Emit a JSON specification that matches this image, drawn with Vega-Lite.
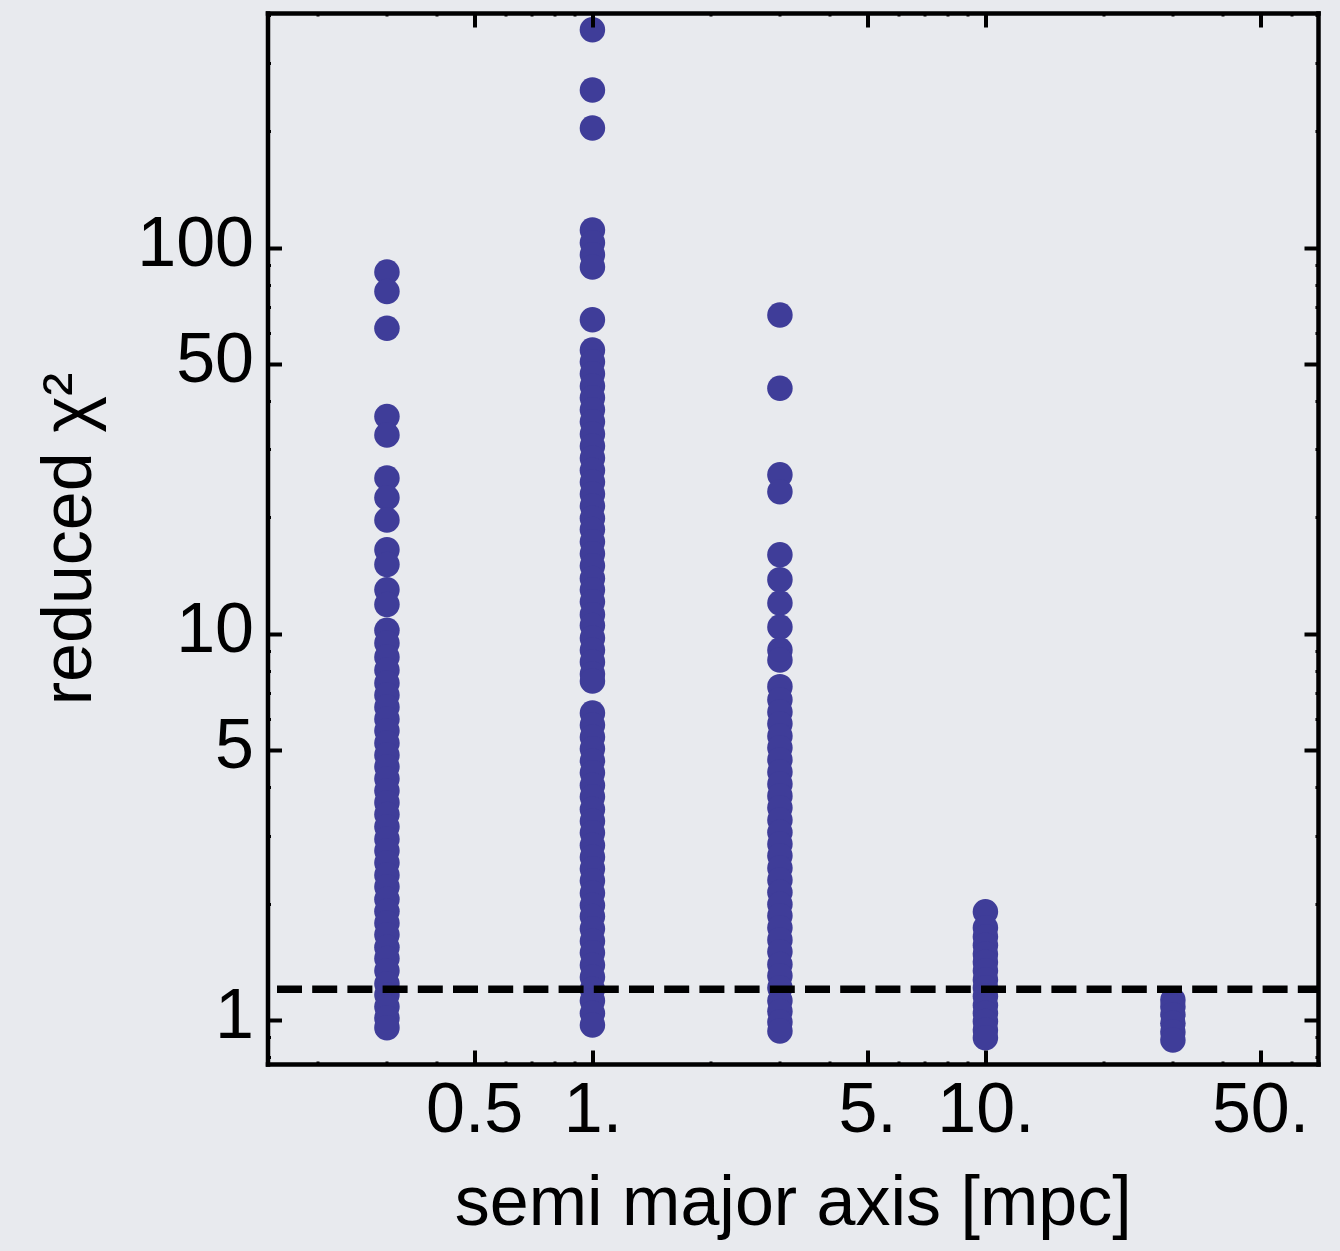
{
  "$schema": "https://vega.github.io/schema/vega-lite/v6.json",
  "width": 1050.5,
  "height": 1051,
  "autosize": "none",
  "padding": {"left": 267.5, "top": 13, "right": 22, "bottom": 187},
  "background": "#e8eaee",
  "config": {
    "view": {"stroke": null},
    "font": "Liberation Sans",
    "axis": {
      "grid": false,
      "domainColor": "#000000",
      "domainWidth": 4.5,
      "domainCap": "square",
      "tickColor": "#000000",
      "tickCap": "butt",
      "labelColor": "#000000",
      "labelFont": "Liberation Sans",
      "labelFontSize": 70,
      "labelFlush": false,
      "labelOverlap": false,
      "labelBound": false,
      "titleColor": "#000000",
      "titleFont": "Liberation Sans",
      "titleFontSize": 70,
      "titleFontWeight": "normal"
    }
  },
  "resolve": {"axis": {"x": "independent", "y": "independent"}},
  "layer": [
    {
      "data": {
        "values": [
          {"a": 0.3, "chi2": 86.4}, {"a": 0.3, "chi2": 76.9}, {"a": 0.3, "chi2": 61.8}, {"a": 0.3, "chi2": 36.5},
          {"a": 0.3, "chi2": 32.7}, {"a": 0.3, "chi2": 25.3}, {"a": 0.3, "chi2": 22.5}, {"a": 0.3, "chi2": 19.7},
          {"a": 0.3, "chi2": 16.5}, {"a": 0.3, "chi2": 15.1}, {"a": 0.3, "chi2": 13.0}, {"a": 0.3, "chi2": 11.9},
          {"a": 0.3, "chi2": 10.2}, {"a": 0.3, "chi2": 9.46}, {"a": 0.3, "chi2": 8.7}, {"a": 0.3, "chi2": 8.05},
          {"a": 0.3, "chi2": 7.45}, {"a": 0.3, "chi2": 6.94}, {"a": 0.3, "chi2": 6.46}, {"a": 0.3, "chi2": 6.01},
          {"a": 0.3, "chi2": 5.6}, {"a": 0.3, "chi2": 5.21}, {"a": 0.3, "chi2": 4.85}, {"a": 0.3, "chi2": 4.52},
          {"a": 0.3, "chi2": 4.21}, {"a": 0.3, "chi2": 3.92}, {"a": 0.3, "chi2": 3.65}, {"a": 0.3, "chi2": 3.4},
          {"a": 0.3, "chi2": 3.16}, {"a": 0.3, "chi2": 2.94}, {"a": 0.3, "chi2": 2.74}, {"a": 0.3, "chi2": 2.55},
          {"a": 0.3, "chi2": 2.37}, {"a": 0.3, "chi2": 2.21}, {"a": 0.3, "chi2": 2.05}, {"a": 0.3, "chi2": 1.91},
          {"a": 0.3, "chi2": 1.78}, {"a": 0.3, "chi2": 1.66}, {"a": 0.3, "chi2": 1.54}, {"a": 0.3, "chi2": 1.44},
          {"a": 0.3, "chi2": 1.34}, {"a": 0.3, "chi2": 1.24}, {"a": 0.3, "chi2": 1.16}, {"a": 0.3, "chi2": 1.08},
          {"a": 0.3, "chi2": 1.01}, {"a": 0.3, "chi2": 0.954},

          {"a": 1, "chi2": 366.5}, {"a": 1, "chi2": 256}, {"a": 1, "chi2": 203.9}, {"a": 1, "chi2": 111},
          {"a": 1, "chi2": 102.9}, {"a": 1, "chi2": 95.8}, {"a": 1, "chi2": 89.1}, {"a": 1, "chi2": 65.0},
          {"a": 1, "chi2": 54.3}, {"a": 1, "chi2": 50.6}, {"a": 1, "chi2": 47.1}, {"a": 1, "chi2": 43.8},
          {"a": 1, "chi2": 40.8}, {"a": 1, "chi2": 38.0}, {"a": 1, "chi2": 35.4}, {"a": 1, "chi2": 32.9},
          {"a": 1, "chi2": 30.6}, {"a": 1, "chi2": 28.5}, {"a": 1, "chi2": 26.5}, {"a": 1, "chi2": 24.7},
          {"a": 1, "chi2": 23.0}, {"a": 1, "chi2": 21.4}, {"a": 1, "chi2": 19.9}, {"a": 1, "chi2": 18.6},
          {"a": 1, "chi2": 17.3}, {"a": 1, "chi2": 16.1}, {"a": 1, "chi2": 15.0}, {"a": 1, "chi2": 13.9},
          {"a": 1, "chi2": 13.0}, {"a": 1, "chi2": 12.1}, {"a": 1, "chi2": 11.2}, {"a": 1, "chi2": 10.5},
          {"a": 1, "chi2": 9.74}, {"a": 1, "chi2": 9.07}, {"a": 1, "chi2": 8.45}, {"a": 1, "chi2": 7.86},
          {"a": 1, "chi2": 7.54}, {"a": 1, "chi2": 6.23}, {"a": 1, "chi2": 5.8}, {"a": 1, "chi2": 5.4},
          {"a": 1, "chi2": 5.03}, {"a": 1, "chi2": 4.68}, {"a": 1, "chi2": 4.36}, {"a": 1, "chi2": 4.05},
          {"a": 1, "chi2": 3.78}, {"a": 1, "chi2": 3.51}, {"a": 1, "chi2": 3.27}, {"a": 1, "chi2": 3.05},
          {"a": 1, "chi2": 2.83}, {"a": 1, "chi2": 2.64}, {"a": 1, "chi2": 2.46}, {"a": 1, "chi2": 2.29},
          {"a": 1, "chi2": 2.13}, {"a": 1, "chi2": 1.98}, {"a": 1, "chi2": 1.85}, {"a": 1, "chi2": 1.72},
          {"a": 1, "chi2": 1.6}, {"a": 1, "chi2": 1.49}, {"a": 1, "chi2": 1.385}, {"a": 1, "chi2": 1.29},
          {"a": 1, "chi2": 1.2}, {"a": 1, "chi2": 1.12}, {"a": 1, "chi2": 1.04}, {"a": 1, "chi2": 0.969},

          {"a": 3, "chi2": 66.9}, {"a": 3, "chi2": 43.2}, {"a": 3, "chi2": 25.8}, {"a": 3, "chi2": 23.3},
          {"a": 3, "chi2": 16.0}, {"a": 3, "chi2": 13.8}, {"a": 3, "chi2": 12.0}, {"a": 3, "chi2": 10.4},
          {"a": 3, "chi2": 9.07}, {"a": 3, "chi2": 8.55}, {"a": 3, "chi2": 7.29}, {"a": 3, "chi2": 6.74},
          {"a": 3, "chi2": 6.27}, {"a": 3, "chi2": 5.84}, {"a": 3, "chi2": 5.43}, {"a": 3, "chi2": 5.06},
          {"a": 3, "chi2": 4.71}, {"a": 3, "chi2": 4.38}, {"a": 3, "chi2": 4.08}, {"a": 3, "chi2": 3.8},
          {"a": 3, "chi2": 3.54}, {"a": 3, "chi2": 3.29}, {"a": 3, "chi2": 3.06}, {"a": 3, "chi2": 2.85},
          {"a": 3, "chi2": 2.66}, {"a": 3, "chi2": 2.47}, {"a": 3, "chi2": 2.3}, {"a": 3, "chi2": 2.14},
          {"a": 3, "chi2": 1.99}, {"a": 3, "chi2": 1.86}, {"a": 3, "chi2": 1.73}, {"a": 3, "chi2": 1.61},
          {"a": 3, "chi2": 1.5}, {"a": 3, "chi2": 1.39}, {"a": 3, "chi2": 1.3}, {"a": 3, "chi2": 1.21},
          {"a": 3, "chi2": 1.12}, {"a": 3, "chi2": 1.05}, {"a": 3, "chi2": 0.986}, {"a": 3, "chi2": 0.935},

          {"a": 10, "chi2": 1.905}, {"a": 10, "chi2": 1.73}, {"a": 10, "chi2": 1.64}, {"a": 10, "chi2": 1.56},
          {"a": 10, "chi2": 1.48}, {"a": 10, "chi2": 1.41}, {"a": 10, "chi2": 1.34}, {"a": 10, "chi2": 1.27},
          {"a": 10, "chi2": 1.21}, {"a": 10, "chi2": 1.15}, {"a": 10, "chi2": 1.09}, {"a": 10, "chi2": 1.04},
          {"a": 10, "chi2": 0.99}, {"a": 10, "chi2": 0.94}, {"a": 10, "chi2": 0.898},

          {"a": 30, "chi2": 1.125}, {"a": 30, "chi2": 1.08}, {"a": 30, "chi2": 1.03}, {"a": 30, "chi2": 0.98},
          {"a": 30, "chi2": 0.93}, {"a": 30, "chi2": 0.886}
        ]
      },
      "mark": {"type": "point", "filled": true, "size": 650, "color": "#3f3d99", "opacity": 1, "strokeWidth": 0},
      "encoding": {
        "x": {
          "field": "a", "type": "quantitative",
          "scale": {"type": "log", "domain": [0.149, 70.2], "nice": false},
          "axis": {
            "orient": "bottom", "values": [0.5, 1, 5, 10, 50],
            "labelExpr": "datum.value < 1 ? '0.5' : datum.value + '.'",
            "tickSize": -14, "tickWidth": 4, "labelPadding": 26,
            "title": "semi major axis [mpc]", "titlePadding": 24, "zindex": 1
          }
        },
        "y": {
          "field": "chi2", "type": "quantitative",
          "scale": {"type": "log", "domain": [0.768, 405], "nice": false},
          "axis": {
            "orient": "left", "values": [1, 5, 10, 50, 100], "format": "d",
            "tickSize": -14, "tickWidth": 4, "labelPadding": 28, "labelOffset": -3,
            "title": "reduced χ²", "titlePadding": 31, "zindex": 1
          }
        }
      }
    },
    {
      "data": {"values": [{"a": 1, "chi2": 1}]},
      "mark": {"type": "point", "opacity": 0},
      "encoding": {
        "x": {
          "field": "a", "type": "quantitative",
          "axis": {
            "orient": "bottom", "values": [0.2, 0.3, 0.4, 0.6, 0.7, 0.8, 0.9, 2, 3, 4, 6, 7, 8, 9, 20, 30, 40, 60],
            "labels": false, "domain": false, "tickSize": -3, "tickWidth": 3, "title": null, "zindex": 1
          }
        },
        "y": {
          "field": "chi2", "type": "quantitative",
          "axis": {
            "orient": "left", "values": [0.8, 0.9, 2, 3, 4, 6, 7, 8, 9, 20, 30, 40, 60, 70, 80, 90, 200, 300, 400],
            "labels": false, "domain": false, "tickSize": -3, "tickWidth": 3, "title": null, "zindex": 1
          }
        }
      }
    },
    {
      "data": {"values": [{"a": 1, "chi2": 1}]},
      "mark": {"type": "point", "opacity": 0},
      "encoding": {
        "x": {
          "field": "a", "type": "quantitative",
          "axis": {
            "orient": "top", "values": [0.5, 1, 5, 10, 50],
            "labels": false, "tickSize": -14, "tickWidth": 4, "title": null, "zindex": 1
          }
        },
        "y": {
          "field": "chi2", "type": "quantitative",
          "axis": {
            "orient": "right", "values": [1, 5, 10, 50, 100],
            "labels": false, "tickSize": -14, "tickWidth": 4, "title": null, "zindex": 1
          }
        }
      }
    },
    {
      "data": {"values": [{"a": 1, "chi2": 1}]},
      "mark": {"type": "point", "opacity": 0},
      "encoding": {
        "x": {
          "field": "a", "type": "quantitative",
          "axis": {
            "orient": "top", "values": [0.2, 0.3, 0.4, 0.6, 0.7, 0.8, 0.9, 2, 3, 4, 6, 7, 8, 9, 20, 30, 40, 60],
            "labels": false, "domain": false, "tickSize": -3, "tickWidth": 3, "title": null, "zindex": 1
          }
        },
        "y": {
          "field": "chi2", "type": "quantitative",
          "axis": {
            "orient": "right", "values": [0.8, 0.9, 2, 3, 4, 6, 7, 8, 9, 20, 30, 40, 60, 70, 80, 90, 200, 300, 400],
            "labels": false, "domain": false, "tickSize": -3, "tickWidth": 3, "title": null, "zindex": 1
          }
        }
      }
    },
    {
      "data": {"values": [{"chi2": 1.2}]},
      "mark": {"type": "rule", "color": "#000000", "strokeWidth": 7.5, "strokeDash": [25, 10.2], "strokeDashOffset": 4.8},
      "encoding": {
        "y": {"field": "chi2", "type": "quantitative", "axis": null}
      }
    }
  ]
}
